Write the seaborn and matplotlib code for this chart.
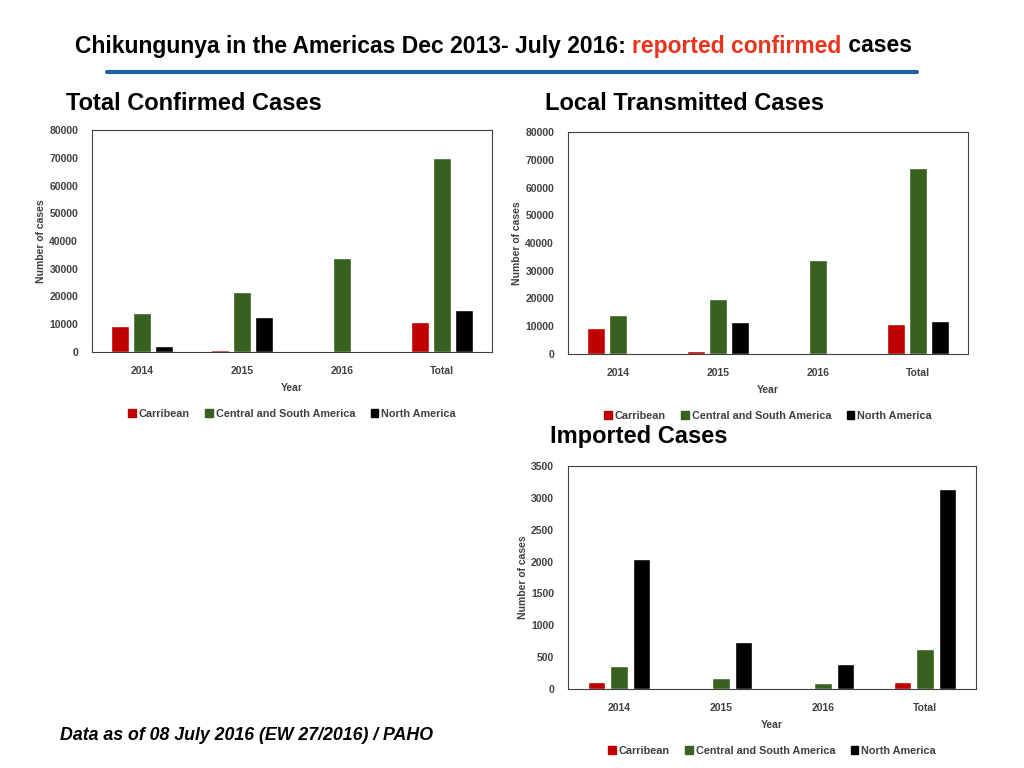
import matplotlib
matplotlib.use("Agg")
import matplotlib.pyplot as plt
import seaborn as sns
import pandas as pd
from matplotlib.patches import Patch

sns.set_style("white")
plt.rcParams['font.family'] = ['Liberation Sans', 'DejaVu Sans']

years = ["2014", "2015", "2016", "Total"]
regions = ["Carribean", "Central and South America", "North America"]
colors = ["#c00000", "#38601e", "#000000"]

total_carib = [9500, 900, 100, 10800]
total_csa = [14200, 21500, 34000, 69800]
total_na = [2300, 12500, 200, 15200]

local_carib = [9500, 1000, 300, 10700]
local_csa = [14000, 19700, 34000, 67000]
local_na = [400, 11600, 300, 12000]

imp_carib = [110, 20, 5, 110]
imp_csa = [360, 180, 90, 620]
imp_na = [2040, 740, 390, 3140]

W, H = 1024, 768
fig = plt.figure(figsize=(W/100, H/100), dpi=100)

def rect(l, t, r, b):
    return [l/W, 1-b/H, (r-l)/W, (b-t)/H]

def panel(r, c, cs, n, ymax, step, title, tpos, legy):
    ax = fig.add_axes(rect(*r))
    df = pd.DataFrame({"Year": years*3,
                       "Region": [regions[0]]*4 + [regions[1]]*4 + [regions[2]]*4,
                       "Cases": c + cs + n})
    sns.barplot(data=df, x="Year", y="Cases", hue="Region", palette=colors,
                ax=ax, width=0.66, gap=0.22, legend=False, saturation=1)
    ax.set_ylim(0, ymax)
    ax.set_yticks(range(0, ymax+1, step))
    ax.tick_params(axis="x", labelsize=7.5, length=0, pad=10)
    ax.tick_params(axis="y", labelsize=7.5, length=0, pad=10)
    for lab in ax.get_xticklabels() + ax.get_yticklabels():
        lab.set_fontweight("bold"); lab.set_color("#404040")
    ax.set_xlabel("Year", fontsize=7.5, fontweight="bold", color="#404040", labelpad=5)
    ax.set_ylabel("Number of cases", fontsize=7.5, fontweight="bold", color="#404040", labelpad=2)
    for s in ax.spines.values():
        s.set_color("#404040"); s.set_linewidth(0.8)
    handles = [Patch(color=col, label=lab) for col, lab in zip(colors, regions)]
    x0 = (r[0]+r[2])/2/W
    fig.legend(handles=handles, loc="center", bbox_to_anchor=(x0, 1-legy/H), ncol=3,
               frameon=False, prop={"size": 7.8, "weight": "bold"}, handlelength=0.7,
               handleheight=0.7, columnspacing=1.4, handletextpad=0.3, labelcolor="#404040")
    fig.text(tpos[0]/W, 1-tpos[1]/H, title, fontsize=17, fontweight="bold", va="center",
             color="black")

panel((92, 130, 492, 352), total_carib, total_csa, total_na, 80000, 10000,
      "Total Confirmed Cases", (66, 103), 414)
panel((568, 132, 968, 354), local_carib, local_csa, local_na, 80000, 10000,
      "Local Transmitted Cases", (545, 103), 416)
panel((568, 466, 976, 689), imp_carib, imp_csa, imp_na, 3500, 500,
      "Imported Cases", (550, 436), 751)

t1 = fig.text(75/W, 1-46/H, "Chikungunya in the Americas Dec 2013- July 2016: ",
              fontsize=16.5, fontweight="bold", va="center", color="black")
a2 = plt.annotate("reported confirmed", xy=(1, 0), xycoords=t1, fontsize=16.5,
                  fontweight="bold", color="#e8341c", va="bottom", annotation_clip=False)
a3 = plt.annotate(" cases", xy=(1, 0), xycoords=a2, fontsize=16.5,
                  fontweight="bold", va="bottom", annotation_clip=False, color="black")
fig.add_artist(plt.Line2D([107/W, 917/W], [1-72/H, 1-72/H], color="#1f5fa0", lw=3))
fig.text(60/W, 1-735/H, "Data as of 08 July 2016 (EW 27/2016) / PAHO", fontsize=12.8,
         fontweight="bold", style="italic", va="center", color="black")
fig.savefig("out.png", dpi=100)
